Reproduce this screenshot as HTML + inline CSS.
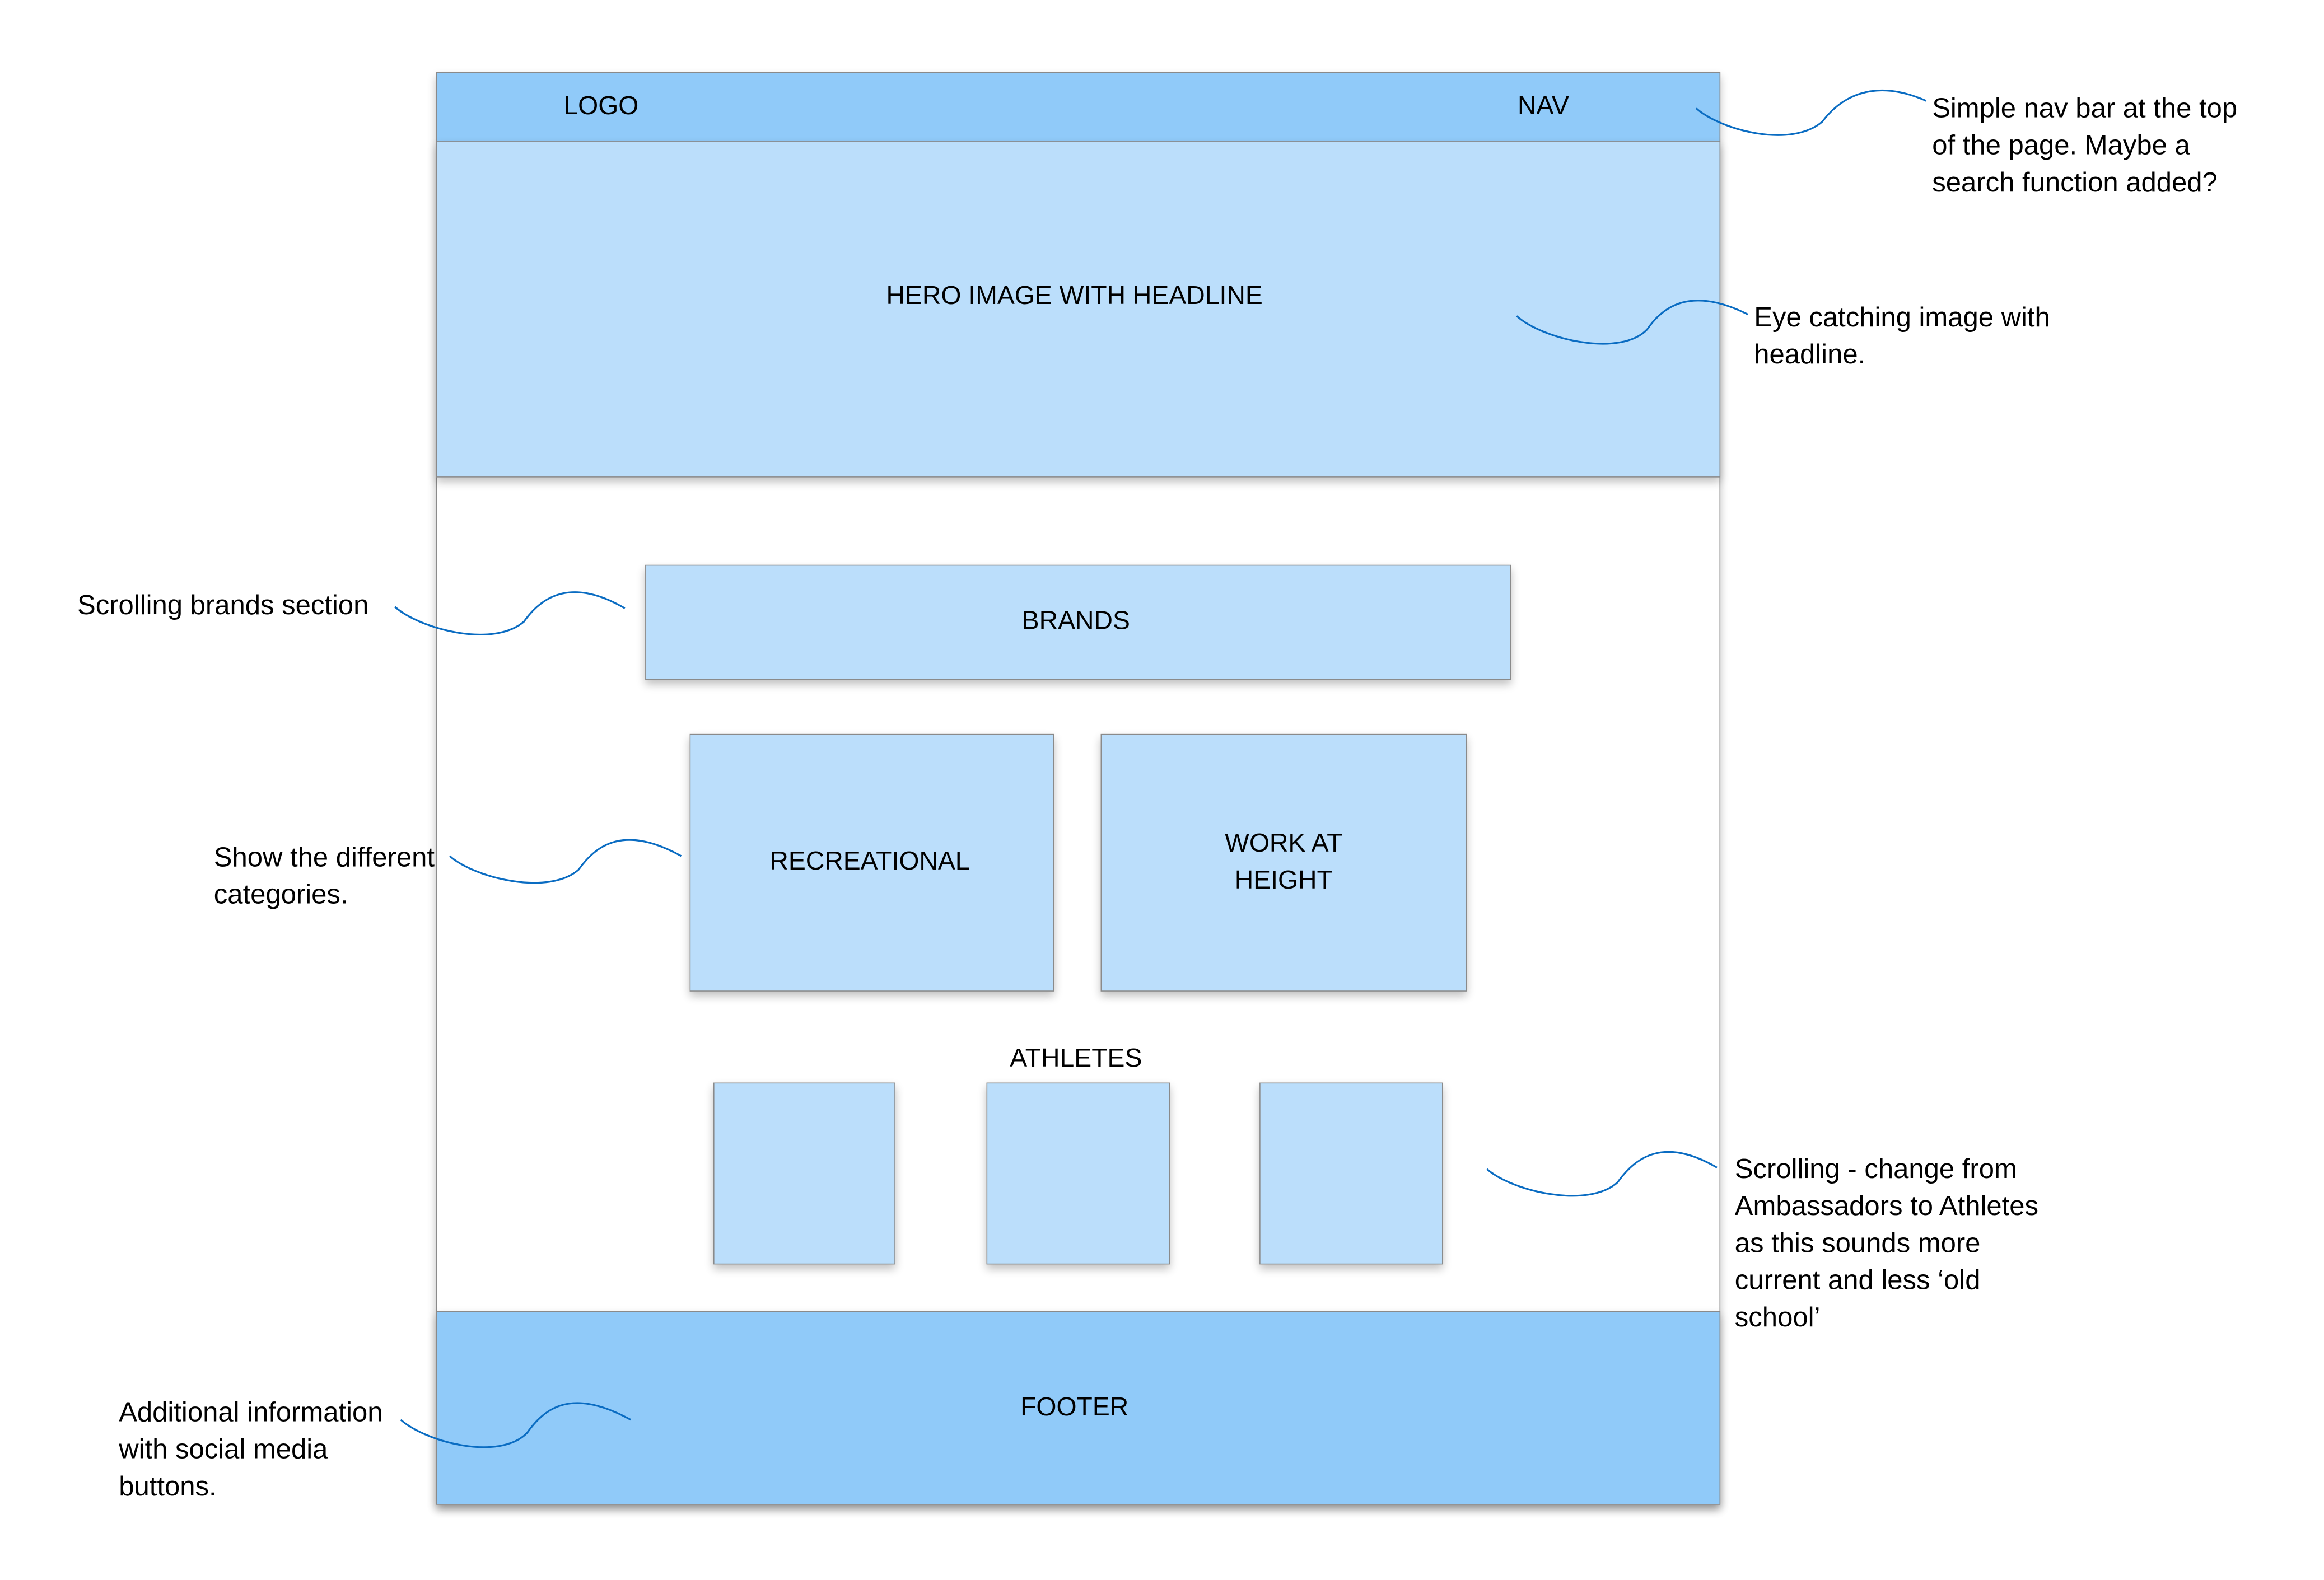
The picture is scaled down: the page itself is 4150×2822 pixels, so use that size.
<!DOCTYPE html>
<html><head><meta charset="utf-8"><style>
html,body{margin:0;padding:0;background:#fff;}
svg{display:block;}
text{font-family:"Liberation Sans",Arial,sans-serif;font-size:17.5px;fill:#000;}
.a text{font-size:18.5px;}
</style></head><body>
<svg width="4150" height="2822" viewBox="0 0 1566 1065" xmlns="http://www.w3.org/2000/svg">
<defs>
<filter id="sh" x="-10%" y="-10%" width="130%" height="130%">
<feGaussianBlur in="SourceAlpha" stdDeviation="3"/>
<feOffset dx="0" dy="3"/>
<feComponentTransfer><feFuncA type="linear" slope="0.25"/></feComponentTransfer>
<feMerge><feMergeNode/><feMergeNode in="SourceGraphic"/></feMerge>
</filter>
</defs>
<rect x="0" y="0" width="1566" height="1065" fill="#fff"/>
<g stroke="#8a8a8a" stroke-width="0.6">
<rect x="294" y="49" width="865" height="965" fill="#fff" filter="url(#sh)"/>
<rect x="294" y="49" width="865" height="46.5" fill="#90caf9"/>
<rect x="294" y="95.5" width="865" height="226" fill="#bbdefb" filter="url(#sh)"/>
<rect x="294" y="884" width="865" height="130" fill="#90caf9" filter="url(#sh)"/>
<rect x="435" y="381" width="583" height="77" fill="#bbdefb" filter="url(#sh)"/>
<rect x="465" y="495" width="245" height="173" fill="#bbdefb" filter="url(#sh)"/>
<rect x="742" y="495" width="246" height="173" fill="#bbdefb" filter="url(#sh)"/>
<rect x="481" y="730" width="122" height="122" fill="#bbdefb" filter="url(#sh)"/>
<rect x="665" y="730" width="123" height="122" fill="#bbdefb" filter="url(#sh)"/>
<rect x="849" y="730" width="123" height="122" fill="#bbdefb" filter="url(#sh)"/>
</g>
<g text-anchor="middle">
<text x="405" y="77">LOGO</text>
<text x="1040" y="77">NAV</text>
<text x="724" y="205">HERO IMAGE WITH HEADLINE</text>
<text x="725" y="424">BRANDS</text>
<text x="586" y="586">RECREATIONAL</text>
<text x="865" y="574">WORK AT</text>
<text x="865" y="599">HEIGHT</text>
<text x="725" y="719">ATHLETES</text>
<text x="724" y="954">FOOTER</text>
</g>
<g class="a">
<text x="1302" y="79">Simple nav bar at the top</text>
<text x="1302" y="104">of the page. Maybe a</text>
<text x="1302" y="129">search function added?</text>
<text x="1182" y="220">Eye catching image with</text>
<text x="1182" y="245">headline.</text>
<text x="52" y="414">Scrolling brands section</text>
<text x="144" y="584">Show the different</text>
<text x="144" y="609">categories.</text>
<text x="1169" y="794">Scrolling - change from</text>
<text x="1169" y="819">Ambassadors to Athletes</text>
<text x="1169" y="844">as this sounds more</text>
<text x="1169" y="869">current and less ‘old</text>
<text x="1169" y="894">school’</text>
<text x="80" y="958">Additional information</text>
<text x="80" y="983">with social media</text>
<text x="80" y="1008">buttons.</text>
</g>
<g fill="none" stroke="#0a6cc2" stroke-width="1.2">
<path d="M1143,73 C1160,88 1207,100 1228,82 C1240,66 1262,52 1298,68"/>
<path d="M1022,213 C1040,229 1092,241 1110,222 C1121,206 1140,193 1178,212"/>
<path d="M266,409 C283,424 332,437 353,419 C365,402 385,389 421,410"/>
<path d="M303,577 C320,592 370,604 390,586 C402,569 421,556 459,577"/>
<path d="M1002,788 C1019,803 1070,815 1090,797 C1102,780 1121,766 1157,787"/>
<path d="M270,957 C287,972 336,985 355,966 C367,949 385,935 425,957"/>
</g>
</svg>
</body></html>
